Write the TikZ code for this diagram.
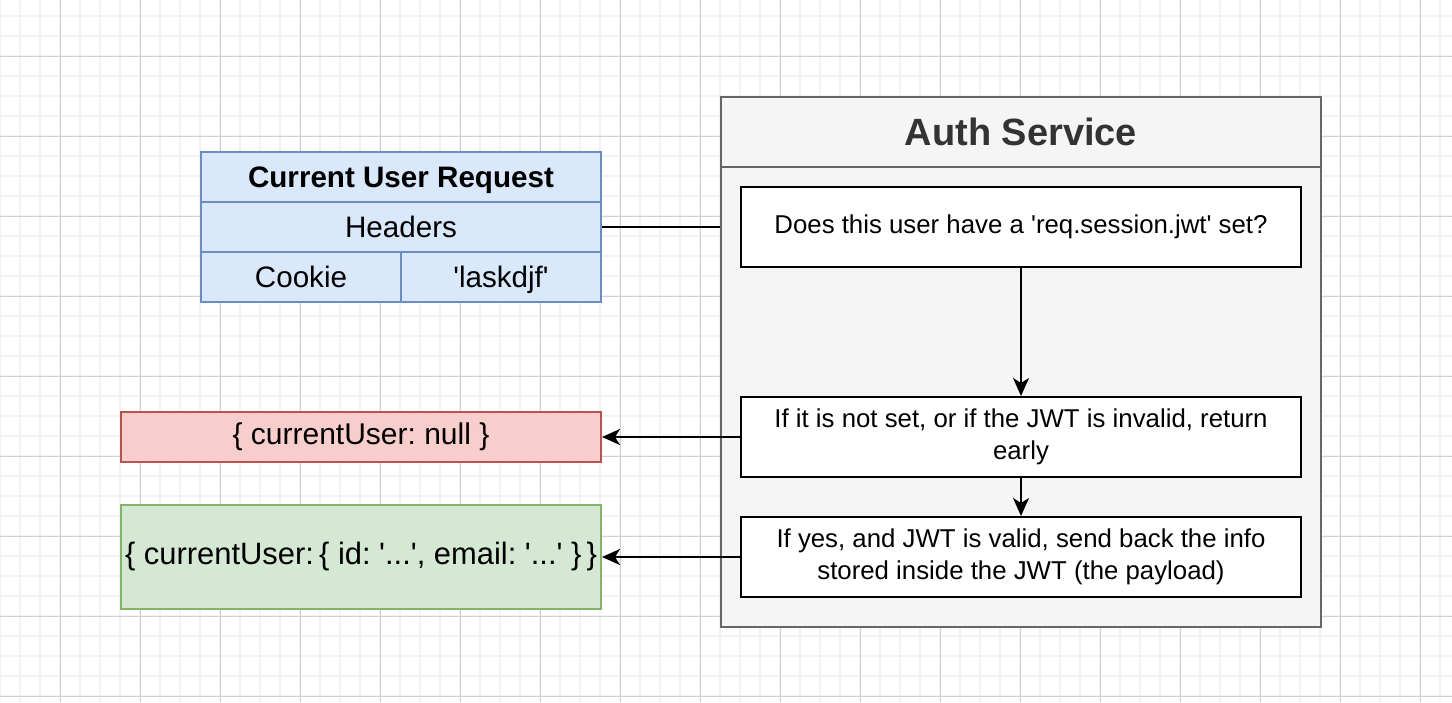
\documentclass[tikz,border=0pt]{standalone}
\usepackage{fontspec}
\setmainfont{Liberation Sans}[Ligatures=TeXOff]
\frenchspacing
\usetikzlibrary{arrows.meta}
\definecolor{gridminor}{HTML}{F2F2F2}
\definecolor{gridmajor}{HTML}{D0D0D0}
\definecolor{bluefill}{HTML}{DAE8FC}
\definecolor{bluedraw}{HTML}{6C8EBF}
\definecolor{redfill}{HTML}{F8CECC}
\definecolor{reddraw}{HTML}{B85450}
\definecolor{greenfill}{HTML}{D5E8D4}
\definecolor{greendraw}{HTML}{82B366}
\definecolor{greyfill}{HTML}{F5F5F5}
\definecolor{greydraw}{HTML}{666666}
\definecolor{titletext}{HTML}{333333}
\tikzset{
  minorgrid/.style={draw=gridminor, line width=1.6pt},
  majorgrid/.style={draw=gridmajor, line width=1pt},
  tablecell/.style={draw=bluedraw, fill=bluefill, line width=2pt, minimum height=50pt, inner sep=0pt, text depth=0pt, font=\fontsize{29.6}{34}\selectfont},
  container/.style={draw=greydraw, fill=greyfill, line width=2pt, inner sep=0pt},
  stepbox/.style={draw=black, fill=white, line width=2pt, minimum width=560pt, minimum height=80pt, inner sep=0pt, align=center, font=\fontsize{25.8}{32}\selectfont},
  result/.style={line width=2pt, minimum width=480pt, inner sep=0pt, font=\fontsize{30}{34}\selectfont},
  arr/.style={draw=black, line width=2pt, -{Stealth[length=18pt, width=16pt, inset=5pt]}},
  link/.style={draw=black, line width=2pt}
}
\begin{document}
\begin{tikzpicture}[x=1pt, y=-1pt]
\useasboundingbox (0,0) rectangle (1452,702);
\fill[white] (0,0) rectangle (1452,702);
% grid
\foreach \x in {0,20,...,1440} \draw[minorgrid] (\x,0) -- (\x,702);
\foreach \y in {-4,16,...,696} \draw[minorgrid] (0,\y) -- (1452,\y);
\foreach \x in {60,140,...,1420} \draw[majorgrid] (\x,0) -- (\x,702);
\foreach \y in {56,136,...,696} \draw[majorgrid] (0,\y) -- (1452,\y);

% request table
\node[tablecell, minimum width=400pt, font=\fontsize{29.6}{34}\selectfont\bfseries] (thead) at (401,177) {Current User Request};
\node[tablecell, minimum width=400pt] (theaders) at (401,227) {Headers};
\node[tablecell, minimum width=200pt] (tcookie) at (301,277) {Cookie};
\node[tablecell, minimum width=200pt] (tvalue) at (501,277) {'laskdjf'};

% auth service container
\node[container, minimum width=600pt, minimum height=530pt] (auth) at (1021,362) {};
\node[container, minimum width=600pt, minimum height=70pt, text depth=0pt, text=titletext, font=\fontsize{38}{44}\selectfont\bfseries] (authtitle) at (1021,132) {Auth Service};

% steps
\node[stepbox] (check) at (1021,227) {Does this user have a 'req.session.jwt' set?};
\node[stepbox] (invalid) at (1021,437) {If it is not set, or if the JWT is invalid, return\\early};
\node[stepbox] (valid) at (1021,557) {If yes, and JWT is valid, send back the info\\stored inside the JWT (the payload)};

% results
\node[result, draw=reddraw, fill=redfill, minimum height=50pt] (nulluser) at (361,437) {\{ currentUser: null \}};
\node[result, draw=greendraw, fill=greenfill, minimum height=104pt, font=\fontsize{30.9}{35}\selectfont] (user) at (361,557) {\{ currentUser:\,\{ id: '...', email: '...' \}\,\}};

% connectors
\draw[link] (theaders.east) -- (theaders.east -| auth.west);
\draw[arr] (check.south) -- (invalid.north);
\draw[arr] (invalid.south) -- (valid.north);
\draw[arr] (invalid.west) -- (nulluser.east);
\draw[arr] (valid.west) -- (user.east);
\end{tikzpicture}
\end{document}
